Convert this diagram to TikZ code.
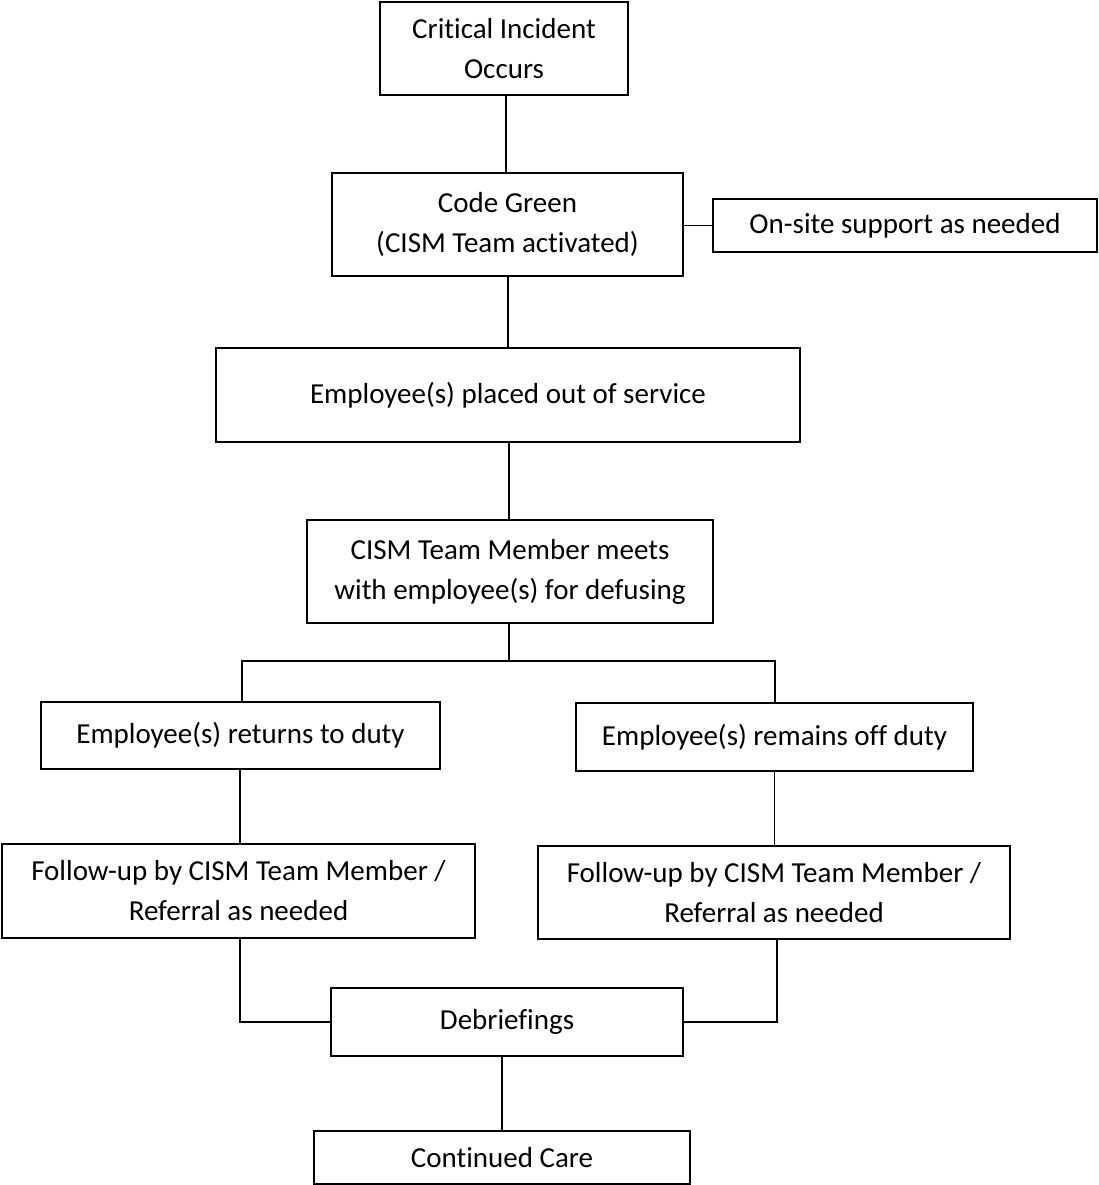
\documentclass[tikz,border=0pt]{standalone}
\usepackage{fontspec}
\setmainfont{Carlito}[Ligatures={NoCommon,NoDiscretionary,NoContextual}]
\begin{document}
\begin{tikzpicture}[x=1pt,y=1pt,
  box/.style={draw, line width=1.8pt, inner sep=0pt, align=center,
    font=\fontsize{29}{40}\selectfont},
  link/.style={line width=1.6pt},
  thicklink/.style={line width=2.6pt}]
\useasboundingbox[fill=white] (0,0) rectangle (1098,-1185);

\node[box, minimum width=248pt, minimum height=93pt] (crit) at (504,-48.5) {Critical Incident\\Occurs};
\node[box, minimum width=351pt, minimum height=103pt] (code) at (507.5,-224.5) {Code Green\\(CISM Team activated)};
\node[box, minimum width=384pt, minimum height=53pt] (onsite) at (905,-225.5) {On-site support as needed};
\node[box, minimum width=584pt, minimum height=94pt] (placed) at (508,-395) {Employee(s) placed out of service};
\node[box, minimum width=406pt, minimum height=103pt] (cism) at (510,-571.5) {CISM Team Member meets\\with employee(s) for defusing};
\node[box, minimum width=399pt, minimum height=67pt] (ret) at (240.5,-735.5) {Employee(s) returns to duty};
\node[box, minimum width=397pt, minimum height=68pt] (rem) at (774.5,-737) {Employee(s) remains off duty};
\node[box, minimum width=473pt, minimum height=94pt] (ful) at (238.5,-891) {Follow-up by CISM Team Member /\\Referral as needed};
\node[box, minimum width=472pt, minimum height=93pt] (fur) at (774,-892.5) {Follow-up by CISM Team Member /\\Referral as needed};
\node[box, minimum width=352pt, minimum height=68pt] (deb) at (507,-1022) {Debriefings};
\node[box, minimum width=376pt, minimum height=53pt] (cont) at (502,-1157.5) {Continued Care};

\coordinate (barL) at (242,-661);
\coordinate (barR) at (775,-661);
\coordinate (barM) at (509,-661);

\draw[link] (crit.south -| 506,0) -- (code.north -| 506,0);
\draw[link] (code.east |- onsite.west) -- (onsite.west);
\draw[link] (placed.north -| 508,0) -- (code.south -| 508,0);
\draw[thicklink] (placed.south -| 509,0) -- (cism.north -| 509,0);
\draw[link] (cism.south -| barM) -- (barM);
\draw[thicklink, line cap=rect] (barL) -- (barR);
\draw[link] (barL) -- (barL |- ret.north);
\draw[link] (barR) -- (barR |- rem.north);
\draw[link] (ret.south -| 240,0) -- (ful.north -| 240,0);
\draw[link] (rem.south) -- (rem.south |- fur.north);
\draw[link] (fur.south -| 777,0) |- (deb.east);
\draw[link] (ful.south -| 240,0) |- (deb.west);
\draw[link] (cont.north |- deb.south) -- (cont.north);
\end{tikzpicture}
\end{document}
